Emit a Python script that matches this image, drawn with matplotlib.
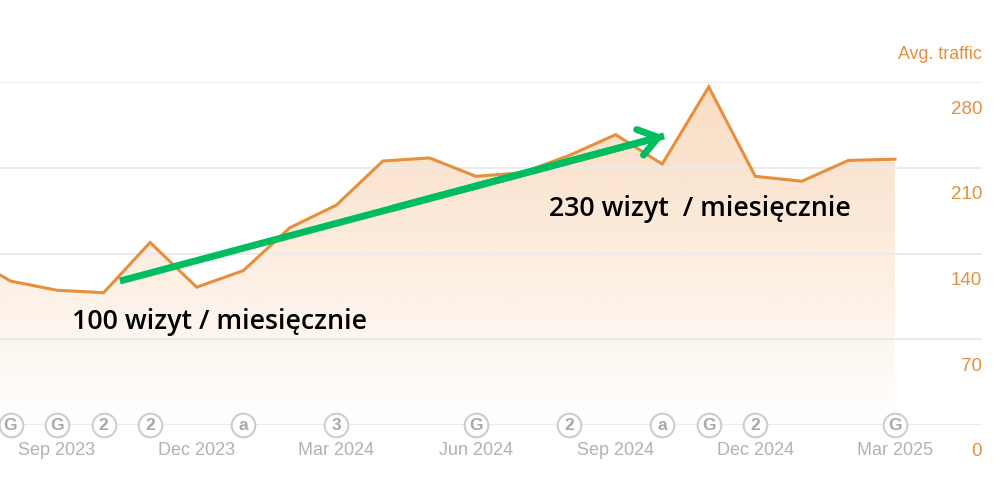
import numpy as np
import matplotlib.pyplot as plt
from matplotlib.patches import Polygon
from matplotlib.transforms import ScaledTranslation

# month index 0 = Aug 2023, -1 is the point cut off by the left edge
months = list(range(-1, 20))
traffic = [140, 117.5, 110, 108, 149, 112.5, 126, 161, 179.5, 215.5, 218,
           203, 206, 220, 237, 213, 276, 203, 199, 216, 217]

tick_months = [1, 4, 7, 10, 13, 16, 19]
tick_labels = ['Sep 2023', 'Dec 2023', 'Mar 2024', 'Jun 2024',
               'Sep 2024', 'Dec 2024', 'Mar 2025']
y_ticks = [0, 70, 140, 210, 280]

badge_months = [0, 1, 2, 3, 5, 7, 10, 12, 14, 15, 16, 19]
badge_labels = ['G', 'G', '2', '2', 'a', '3', 'G', '2', 'a', 'G', '2', 'G']

trend_x = [2.35, 14.04]
trend_y = [117.5, 236]
notes = ['100 wizyt / miesięcznie', '230 wizyt  / miesięcznie']
notes_x = [1.32, 11.57]
notes_y = [84, 176]

ORANGE = '#E68F3C'
GREY = '#B2B2B2'
GREEN = '#00BE5F'

plt.rcParams['font.family'] = ['Liberation Sans', 'DejaVu Sans']

fig = plt.figure(figsize=(10, 5), dpi=100)
ax = fig.add_axes([0, 75 / 500, 0.982, 343 / 500])

# gradient fill under the line, clipped to the area polygon
gradient = np.zeros((256, 1, 4))
gradient[:, :, :3] = np.array([246, 196, 150]) / 255
gradient[:, :, 3] = np.linspace(0.6, 0.0, 256)[:, None]
img = ax.imshow(gradient, extent=[-1, 19, 0, 280], aspect='auto',
                origin='upper', zorder=1)
ax.set_xlim(-0.2256, 20.87)
ax.set_ylim(0, 280)
area = Polygon(list(zip(months, traffic)) + [(months[-1], 0), (months[0], 0)],
               closed=True, transform=ax.transData)
img.set_clip_path(area)

ax.plot(months, traffic, color=ORANGE, lw=2.2, zorder=3,
        solid_joinstyle='miter')

for side in ax.spines.values():
    side.set_visible(False)
ax.yaxis.tick_right()
ax.set_yticks(y_ticks)
ax.set_xticks(tick_months)
ax.set_xticklabels(tick_labels)
ax.grid(axis='y', color='#EBEBEB', lw=1.5, zorder=2)
ax.set_axisbelow(False)
ax.tick_params(axis='x', length=0, pad=12.5, labelsize=13, labelcolor=GREY)
ax.tick_params(axis='y', length=0, pad=0, labelsize=13.5, labelcolor=ORANGE)

# value labels sit below their gridlines
shift = ScaledTranslation(0, -25 / 100, fig.dpi_scale_trans)
for label in ax.get_yticklabels():
    label.set_ha('right')
    label.set_transform(label.get_transform() + shift)

ax.text(1.0, 1.08, 'Avg. traffic', transform=ax.transAxes, ha='right',
        va='center', color=ORANGE, fontsize=12.9)

# event badges on the baseline
ax.scatter(badge_months, [0] * len(badge_months), s=290, facecolor='white',
           edgecolor='#CDCDCD', linewidth=1.5, clip_on=False, zorder=4)
for m, b in zip(badge_months, badge_labels):
    ax.text(m, 0, b, ha='center', va='center', color='#A8A8A8', fontsize=12.5,
            fontweight='bold', zorder=5, clip_on=False)

# flat start for the shaft, rounded chevron for the head
ax.plot(trend_x, trend_y, color=GREEN, lw=5, solid_capstyle='butt', zorder=6)
ax.annotate('', xy=(trend_x[1], trend_y[1]),
            xytext=(np.mean(trend_x), np.mean(trend_y)),
            arrowprops=dict(arrowstyle='->,head_length=1.35,head_width=0.95',
                            color=GREEN, lw=5, shrinkA=0, shrinkB=0,
                            capstyle='round', joinstyle='round'),
            zorder=6)

for x, y, note in zip(notes_x, notes_y, notes):
    ax.text(x, y, note, ha='left', va='center', color='black', fontsize=19.3,
            family=['Open Sans', 'DejaVu Sans'], fontweight='semibold', zorder=7)

fig.savefig('out.png', dpi=100)
